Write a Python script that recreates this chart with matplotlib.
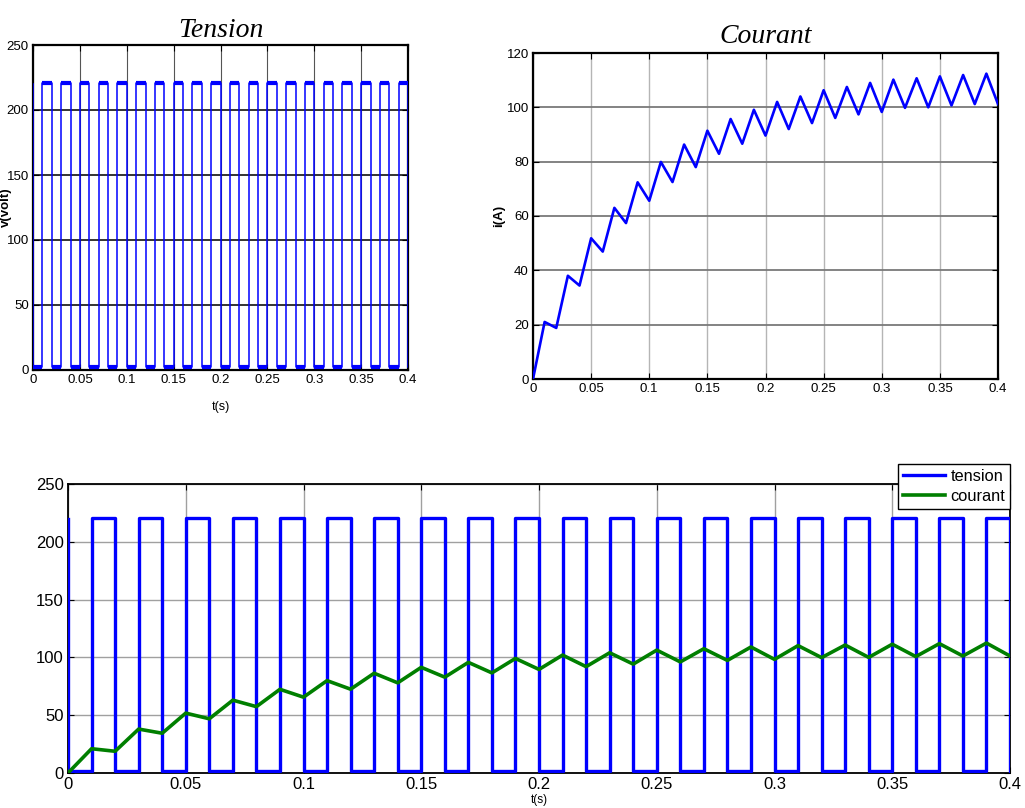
import matplotlib
matplotlib.use("Agg")
import matplotlib.pyplot as plt
from matplotlib import font_manager
from matplotlib.ticker import FixedLocator, FixedFormatter

# ---- data -------------------------------------------------------------
# switching instants of the chopper voltage (s) and the level held from each instant
time_v = [0.00, 0.00, 0.01, 0.02, 0.03, 0.04, 0.05, 0.06, 0.07, 0.08, 0.09,
          0.10, 0.11, 0.12, 0.13, 0.14, 0.15, 0.16, 0.17, 0.18, 0.19,
          0.20, 0.21, 0.22, 0.23, 0.24, 0.25, 0.26, 0.27, 0.28, 0.29,
          0.30, 0.31, 0.32, 0.33, 0.34, 0.35, 0.36, 0.37, 0.38, 0.39, 0.40]
tension = [220, 2, 221, 2, 221, 2, 221, 2, 221, 2, 221,
           2, 221, 2, 221, 2, 221, 2, 221, 2, 221,
           2, 221, 2, 221, 2, 221, 2, 221, 2, 221,
           2, 221, 2, 221, 2, 221, 2, 221, 2, 221, 2]

# load current (A) at the turning points
time_i = [0.00, 0.01, 0.02, 0.03, 0.04, 0.05, 0.06, 0.07, 0.08, 0.09, 0.10,
          0.11, 0.12, 0.13, 0.14, 0.15, 0.16, 0.17, 0.18, 0.19, 0.20,
          0.21, 0.22, 0.23, 0.24, 0.25, 0.26, 0.27, 0.28, 0.29, 0.30,
          0.31, 0.32, 0.33, 0.34, 0.35, 0.36, 0.37, 0.38, 0.39, 0.40]
courant = [0.0, 21.0, 18.8, 38.0, 34.4, 51.8, 46.9, 63.0, 57.4, 72.4, 65.6,
           79.9, 72.5, 86.3, 78.0, 91.4, 82.9, 95.7, 86.6, 99.1, 89.6,
           102.0, 92.0, 104.0, 94.2, 106.3, 96.1, 107.5, 97.4, 109.0, 98.3,
           110.2, 99.8, 110.7, 100.0, 111.4, 100.7, 111.9, 101.2, 112.4, 101.2]

x_ticks = [0, 0.05, 0.1, 0.15, 0.2, 0.25, 0.3, 0.35, 0.4]
x_tick_labels = ["0", "0.05", "0.1", "0.15", "0.2", "0.25", "0.3", "0.35", "0.4"]
v_ticks = [0, 50, 100, 150, 200, 250]
v_tick_labels = ["0", "50", "100", "150", "200", "250"]
i_ticks = [0, 20, 40, 60, 80, 100, 120]
i_tick_labels = ["0", "20", "40", "60", "80", "100", "120"]

# ---- fonts ------------------------------------------------------------
available = {f.name for f in font_manager.fontManager.ttflist}
narrow = "Liberation Sans Narrow" if "Liberation Sans Narrow" in available else "Liberation Sans"
sans = "Liberation Sans"
serif = "Liberation Serif"

BLUE = "#0000ff"
GREEN = "#007f00"

W, H = 1025, 808
fig = plt.figure(figsize=(W / 100, H / 100), dpi=100)


def box(left, top, right, bottom):
    return [left / W, 1 - bottom / H, (right - left) / W, (bottom - top) / H]


def style_axes(ax, yticks, ylabels, fontfamily, fontsize, spine_lw):
    ax.set_xlim(0, 0.4)
    ax.xaxis.set_major_locator(FixedLocator(x_ticks))
    ax.xaxis.set_major_formatter(FixedFormatter(x_tick_labels))
    ax.yaxis.set_major_locator(FixedLocator(yticks))
    ax.yaxis.set_major_formatter(FixedFormatter(ylabels))
    ax.tick_params(direction="in", top=True, right=True, length=4, width=0.8,
                   colors="black", pad=3)
    for lab in ax.get_xticklabels() + ax.get_yticklabels():
        lab.set_fontfamily(fontfamily)
        lab.set_fontsize(fontsize)
    for sp in ax.spines.values():
        sp.set_linewidth(spine_lw)
        sp.set_color("black")
    ax.set_axisbelow(True)


# ---- Tension ----------------------------------------------------------
ax1 = fig.add_axes(box(33, 45, 408, 370))
style_axes(ax1, v_ticks, v_tick_labels, narrow, 9.5, 1.6)
ax1.set_ylim(0, 250)
ax1.grid(axis="y", color="#111111", lw=1.2)
ax1.grid(axis="x", color="#555555", lw=0.8)
ax1.plot(time_v, tension, color=BLUE, lw=1.1, drawstyle="steps-post", zorder=3)
# plateaus of the switched voltage look heavier than the edges
for k in range(1, len(time_v) - 1):
    ax1.hlines(tension[k], time_v[k], time_v[k + 1], color=BLUE, lw=3.0, zorder=3)
ax1.set_title("Tension", fontfamily=serif, fontstyle="italic", fontsize=20, pad=6)
ax1.set_ylabel("v(volt)", fontfamily=sans, fontsize=9.5, fontweight="bold")
ax1.yaxis.set_label_coords(-0.055, 0.5)
ax1.set_xlabel("t(s)", fontfamily=narrow, fontsize=9)
ax1.xaxis.set_label_coords(0.5, -0.095)

# ---- Courant ----------------------------------------------------------
ax2 = fig.add_axes(box(533, 53, 998, 379))
style_axes(ax2, i_ticks, i_tick_labels, narrow, 9.5, 1.6)
ax2.set_ylim(0, 120)
ax2.grid(axis="y", color="#7a7a7a", lw=1.3)
ax2.grid(axis="x", color="#b5b5b5", lw=1.0)
ax2.plot(time_i, courant, color=BLUE, lw=1.9, zorder=3)
ax2.set_title("Courant", fontfamily=serif, fontstyle="italic", fontsize=20, pad=7)
ax2.set_ylabel("i(A)", fontfamily=sans, fontsize=9.5, fontweight="bold")
ax2.yaxis.set_label_coords(-0.06, 0.5)

# ---- tension + courant ------------------------------------------------
ax3 = fig.add_axes(box(68, 484, 1010, 773))
style_axes(ax3, v_ticks, v_tick_labels, sans, 12, 1.3)
ax3.set_ylim(0, 250)
ax3.grid(color="#a0a0a0", lw=1.0)
ax3.plot(time_v, tension, color=BLUE, lw=2.4, drawstyle="steps-post",
         label="tension", zorder=3)
ax3.plot(time_i, courant, color=GREEN, lw=2.6, label="courant", zorder=4)
ax3.set_xlabel("t(s)", fontfamily=sans, fontsize=8.5, labelpad=1)
leg = ax3.legend(loc="upper right", bbox_to_anchor=(1.0, 1.0 + 20 / 289),
                 prop={"family": sans, "size": 11.8}, fancybox=False,
                 edgecolor="black", framealpha=1, borderpad=0.3,
                 handlelength=2.6, handletextpad=0.3, labelspacing=0.3,
                 borderaxespad=0)
leg.get_frame().set_linewidth(1.0)
leg.set_zorder(10)

fig.savefig("out.png", dpi=100)
